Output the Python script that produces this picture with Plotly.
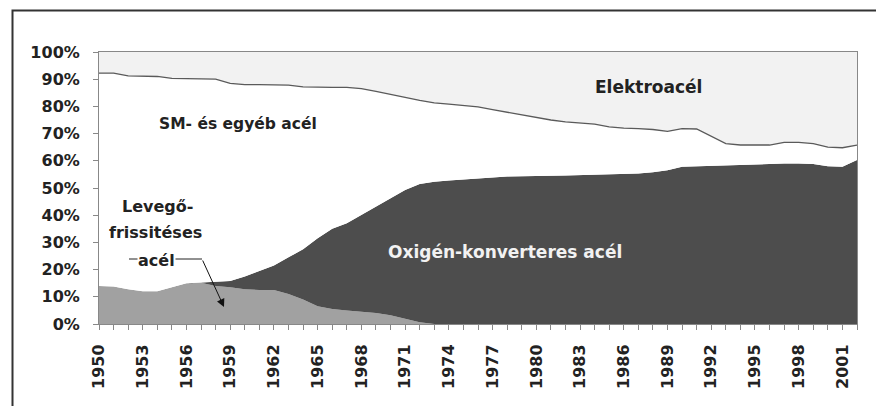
import plotly.graph_objects as go

years = list(range(1950, 2003))

levego = [14, 13.8, 12.8, 12, 12, 13.5, 15, 15.2, 14, 13.5,
          12.8, 12.5, 12.5, 11, 9, 6.5, 5.5, 5, 4.6, 4,
          3.2, 1.8, 0.6] + [0] * 30

oxigen = [0, 0, 0, 0, 0, 0, 0, 0.1, 1.5, 2.3,
          4.7, 7, 9, 13.5, 18.5, 25, 29.5, 32, 35.4, 39,
          43, 47.5, 50.9, 52.3, 52.8, 53.2, 53.5, 53.8, 54.2, 54.3,
          54.5, 54.5, 54.6, 54.7, 54.8, 55, 55.2, 55.3, 55.8, 56.5,
          57.8, 58, 58, 58.3, 58.5, 58.7, 59, 59, 59, 58.8,
          58, 57.8, 60.3]

sm_egyeb = [78.2, 78.4, 78.4, 79, 79, 76.8, 75.2, 74.9, 74.5, 72.7,
            70.5, 68.5, 66.5, 63.3, 59.7, 55.5, 52, 50, 46.5, 42.5,
            38.3, 34, 30.7, 29, 28, 27.1, 26.3, 25, 23.6, 22.5,
            21.5, 20.5, 19.7, 19.1, 18.7, 17.5, 16.8, 16.5, 15.7, 14.3,
            14, 13.7, 11, 8, 7.3, 7.1, 6.8, 7.8, 7.8, 7.5,
            7, 7, 5.5]

elektro = [7.8, 7.8, 8.8, 9, 9, 9.7, 9.8, 9.8, 10, 11.5,
           12, 12, 12, 12.2, 12.8, 13, 13, 13, 13.5, 14.5,
           15.5, 16.7, 17.8, 18.7, 19.2, 19.7, 20.2, 21.2, 22.2, 23.2,
           24, 25, 25.7, 26.2, 26.5, 27.5, 28, 28.2, 28.5, 29.2,
           28.2, 28.3, 31, 33.7, 34.2, 34.2, 34.2, 33.2, 33.2, 33.7,
           35, 35.2, 34.2]

y_ticks = list(range(0, 101, 10))
y_labels = [f"{v}%" for v in y_ticks]

FONT = "DejaVu Sans"
fig = go.Figure()

series = [
    ("Levegő-frissítéses acél", levego, "#a1a1a1", "rgba(0,0,0,0)", 0),
    ("Oxigén-konverteres acél", oxigen, "#4d4d4d", "rgba(0,0,0,0)", 0),
    ("SM- és egyéb acél", sm_egyeb, "#ffffff", "#5a5a5a", 1.3),
    ("Elektroacél", elektro, "#f2f2f2", "rgba(0,0,0,0)", 0),
]
for name, vals, fc, lc, lw in series:
    fig.add_trace(go.Scatter(
        x=years, y=vals, name=name, stackgroup="one", mode="lines",
        fillcolor=fc, line=dict(color=lc, width=lw), showlegend=False,
    ))

# page body adds an 8px offset; work in screen pixels and convert
OFF = 8
W, H = 884 - OFF, 406 - OFF
L, R, T = 99 - OFF, 27, 52 - OFF
B = H - (324 - OFF)
pw, ph = W - L - R, H - T - B


def px(xs):
    return (xs - OFF - L) / pw


def py(ys):
    return (H - B - (ys - OFF)) / ph


fig.update_layout(
    width=W, height=H,
    margin=dict(l=L, r=R, t=T, b=B),
    paper_bgcolor="white", plot_bgcolor="white",
    font=dict(family=FONT, color="#222"),
    xaxis=dict(
        range=[1950, 2002], tickmode="linear", tick0=1950, dtick=3,
        tickangle=-90, ticks="outside", ticklen=5, tickcolor="#888",
        showline=True, linecolor="#888", linewidth=1, mirror=True,
        showgrid=False, zeroline=False, automargin=False,
        tickfont=dict(family=FONT, size=16, color="#222", weight="bold"),
        minor=dict(dtick=1, tick0=1950, ticks="outside", ticklen=5,
                   tickcolor="#888", showgrid=False),
        ticklabelstandoff=8,
    ),
    yaxis=dict(
        range=[0, 100], tickmode="array", tickvals=y_ticks, ticktext=y_labels,
        ticks="outside", ticklen=5, tickcolor="#888",
        showline=True, linecolor="#888", linewidth=1, mirror=True,
        showgrid=False, zeroline=False, automargin=False,
        tickfont=dict(family=FONT, size=16, color="#222", weight="bold"),
        ticklabelstandoff=10,
    ),
)

# outer frame
fig.add_shape(type="rect", xref="paper", yref="paper",
              x0=px(12.5), x1=px(881), y0=py(440), y1=py(10.5),
              line=dict(color="#333", width=2), fillcolor="rgba(0,0,0,0)",
              layer="above")

# callout line for "acél"
fig.add_shape(type="line", xref="paper", yref="paper",
              x0=px(129), x1=px(202), y0=py(259), y1=py(259),
              line=dict(color="#222", width=1), layer="above")


def ann(text, xc, yc, size, color="#222", bg=None):
    fig.add_annotation(text=text, xref="paper", yref="paper",
                       x=px(xc), y=py(yc), showarrow=False,
                       xanchor="center", yanchor="middle",
                       font=dict(family=FONT, size=size, color=color, weight="bold"),
                       bgcolor=bg, borderpad=0)


ann("Elektroacél", 648, 87, 17)
ann("SM- és egyéb acél", 238, 124, 15.5)
ann("Oxigén-konverteres acél", 505, 252, 17, color="#f2f2f2")
ann("Levegő-", 157, 206, 16)
ann("frissitéses", 155, 232, 16)
ann("acél", 156, 260, 16, bg="white")

# arrow
fig.add_annotation(xref="paper", yref="paper", x=px(224), y=py(307),
                   ax=202 - 224, ay=259 - 307, text="", showarrow=True,
                   arrowhead=2, arrowsize=1.6, arrowwidth=1, arrowcolor="#111",
                   standoff=0)

fig.write_html("out.html")
